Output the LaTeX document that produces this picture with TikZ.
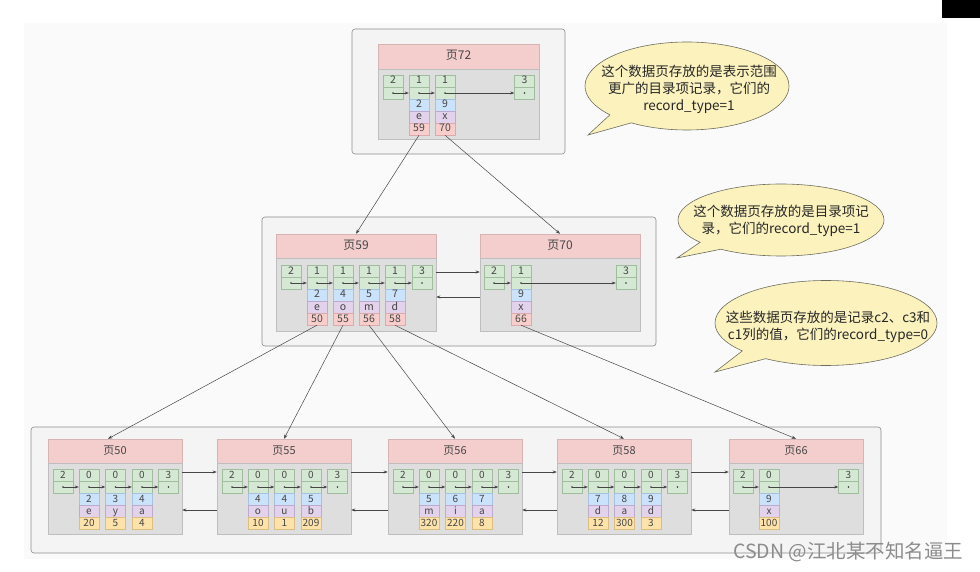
\documentclass[tikz,border=0pt]{standalone}
\usepackage{fontspec}
\setmainfont{Noto Sans CJK SC}
\usetikzlibrary{arrows.meta,shapes.callouts,calc}
\definecolor{bgc}{RGB}{250,250,250}
\definecolor{contfill}{RGB}{244,244,244}
\definecolor{contdraw}{RGB}{140,140,140}
\definecolor{headfill}{RGB}{244,205,205}
\definecolor{headdraw}{RGB}{215,180,180}
\definecolor{bodyfill}{RGB}{222,222,222}
\definecolor{bodydraw}{RGB}{190,190,190}
\definecolor{gfill}{RGB}{213,232,212}
\definecolor{gdraw}{RGB}{160,190,158}
\definecolor{bfill}{RGB}{202,226,250}
\definecolor{bdraw}{RGB}{165,195,225}
\definecolor{vfill}{RGB}{226,210,235}
\definecolor{vdraw}{RGB}{190,170,205}
\definecolor{kfill}{RGB}{248,206,204}
\definecolor{kdraw}{RGB}{220,170,170}
\definecolor{ofill}{RGB}{253,226,170}
\definecolor{odraw}{RGB}{220,190,130}
\definecolor{celltext}{RGB}{70,70,70}
\definecolor{linec}{RGB}{70,70,70}
\definecolor{bubfill}{RGB}{251,242,190}
\definecolor{bubdraw}{RGB}{110,110,95}
\tikzset{
  cfont/.style={font=\fontsize{10}{11}\selectfont},
  tfont/.style={font=\fontsize{11}{12}\selectfont},
  cellb/.style={line width=0.4pt, minimum width=20pt, minimum height=12pt, inner sep=0pt, text height=7.5pt, text depth=1.5pt, text=celltext, cfont},
  gcell/.style={cellb, fill=gfill, draw=gdraw},
  bcell/.style={cellb, fill=bfill, draw=bdraw},
  vcell/.style={cellb, fill=vfill, draw=vdraw},
  kcell/.style={cellb, fill=kfill, draw=kdraw},
  ocell/.style={cellb, fill=ofill, draw=odraw},
  phead/.style={rectangle, fill=headfill, draw=headdraw, line width=0.4pt, inner sep=0pt, text height=8.5pt, text depth=2pt, text=celltext, tfont},
  pbody/.style={rectangle, fill=bodyfill, draw=bodydraw, line width=0.5pt, inner sep=0pt},
  cont/.style={rectangle, rounded corners=3pt, fill=contfill, draw=contdraw, line width=0.6pt, inner sep=0pt},
  ptr/.style={draw=linec, line width=0.5pt, -{Stealth[length=4pt,width=3pt]}},
  conn/.style={draw=linec, line width=0.5pt, -{Stealth[length=4.5pt,width=3.2pt]}},
  dotc/.style={fill=black!80},
  bubble/.style={ellipse callout, fill=bubfill, draw=bubdraw, line width=0.6pt, inner sep=0pt, callout pointer arc=16},
  btext/.style={align=center, text=black!85, font=\fontsize{13.5}{17}\selectfont, inner sep=0pt},
}
\newcommand\hc[4]{%
  \node[gcell] (#1) at ({#2},{#3+6}) {#4};
  \node[gcell] (#1d) at ({#2},{#3+18}) {};
  \fill[dotc] (#1d.center) circle (0.9pt);}
\newcommand\rc[7]{%
  \node[bcell] (#1r1) at ({#2},{#3+6}) {#4};
  \node[vcell] (#1r2) at ({#2},{#3+18}) {#5};
  \node[#7] (#1r3) at ({#2},{#3+30}) {#6};}
\newcommand\lnk[2]{\draw[ptr] (#1d.center) -- (#2d.west);}
\newcommand\pg[8]{%
  \node[phead, minimum width=#5pt, minimum height=#6pt] (#1) at ({#2},{#3}) {#8};
  \node[pbody, minimum width=#5pt, minimum height=#7pt] (#1b) at ({#2},{#4}) {};}
\newcommand\leaf[4]{%
  \pg{#1}{#2+67}{451}{498.5}{134}{24}{71}{#3}
  \hc{#1-1}{#2+15}{469}{2}
  \hc{#1-2}{#2+41}{469}{0}
  \hc{#1-3}{#2+67.5}{469}{0}
  \hc{#1-4}{#2+94}{469}{0}
  \hc{#1-5}{#2+120.5}{469}{3}
  \foreach \a/\b/\c [count=\i from 2] in {#4}{\rc{#1-\i}{#2+41+(\i-2)*26.5}{493}{\a}{\b}{\c}{ocell}}
  \lnk{#1-1}{#1-2}\lnk{#1-2}{#1-3}\lnk{#1-3}{#1-4}\lnk{#1-4}{#1-5}}
\begin{document}
\begin{tikzpicture}[x=1pt,y=-1pt]
\useasboundingbox (0,0) rectangle (980,572);
\fill[white] (0,0) rectangle (980,572);
\fill[bgc] (24,23) rectangle (947,559);
\fill[black] (942,0) rectangle (980,18);

% containers
\node[cont, minimum width=213pt, minimum height=125pt] (c1) at (458.5,91.5) {};
\node[cont, minimum width=394pt, minimum height=129pt] (c2) at (459,281.5) {};
\node[cont, minimum width=850pt, minimum height=126pt] (c3) at (456,490) {};

% page 72
\begin{scope}[tfont/.style={font=\fontsize{12}{13}\selectfont}, cfont/.style={font=\fontsize{10.5}{12}\selectfont}]
\pg{p72}{458.5}{56.5}{104}{161}{25}{70}{页72}
\hc{p72-1}{393}{75}{2}
\hc{p72-2}{419}{75}{1}
\hc{p72-3}{445}{75}{1}
\hc{p72-4}{524.5}{75}{3}
\rc{p72-2}{419}{99}{2}{e}{59}{kcell}
\rc{p72-3}{445}{99}{9}{x}{70}{kcell}
\lnk{p72-1}{p72-2}\lnk{p72-2}{p72-3}\lnk{p72-3}{p72-4}

% page 59
\pg{p59}{356}{246}{294.5}{160}{24}{73}{页59}
\hc{p59-1}{291}{265}{2}
\hc{p59-2}{317}{265}{1}
\hc{p59-3}{343}{265}{1}
\hc{p59-4}{369}{265}{1}
\hc{p59-5}{395}{265}{1}
\hc{p59-6}{422}{265}{3}
\rc{p59-2}{317}{289}{2}{e}{50}{kcell}
\rc{p59-3}{343}{289}{4}{o}{55}{kcell}
\rc{p59-4}{369}{289}{5}{m}{56}{kcell}
\rc{p59-5}{395}{289}{7}{d}{58}{kcell}
\lnk{p59-1}{p59-2}\lnk{p59-2}{p59-3}\lnk{p59-3}{p59-4}\lnk{p59-4}{p59-5}\lnk{p59-5}{p59-6}

% page 70
\pg{p70}{560}{246}{294.5}{160}{24}{73}{页70}
\hc{p70-1}{494}{265}{2}
\hc{p70-2}{521}{265}{1}
\hc{p70-3}{626}{265}{3}
\rc{p70-2}{521}{289}{9}{x}{66}{kcell}
\lnk{p70-1}{p70-2}\lnk{p70-2}{p70-3}
\end{scope}

\draw[ptr] ([yshift=22.5pt]p59b.east) -- ([yshift=22.5pt]p70b.west);
\draw[ptr] ([yshift=-2.5pt]p70b.west) -- ([yshift=-2.5pt]p59b.east);

% leaf pages
\leaf{p50}{48}{页50}{2/e/20,3/y/5,4/a/4}
\leaf{p55}{217}{页55}{4/o/10,4/u/1,5/b/209}
\leaf{p56}{388}{页56}{5/m/320,6/i/220,7/a/8}
\leaf{p58}{557}{页58}{7/d/12,8/a/300,9/d/3}
\pg{p66}{796}{451}{498.5}{134}{24}{71}{页66}
\hc{p66-1}{743}{469}{2}
\hc{p66-2}{769}{469}{0}
\hc{p66-3}{848.5}{469}{3}
\rc{p66-2}{769}{493}{9}{x}{100}{ocell}
\lnk{p66-1}{p66-2}\lnk{p66-2}{p66-3}

% sibling links
\foreach \l/\r in {p50/p55,p55/p56,p56/p58,p58/p66}{
  \draw[ptr] ([yshift=26.5pt]\l b.east) -- ([yshift=26.5pt]\r b.west);
  \draw[ptr] ([yshift=-11.5pt]\r b.west) -- ([yshift=-11.5pt]\l b.east);
}

% tree connectors
\draw[conn] (p72-2r3.south) -- (p59.north);
\draw[conn] (p72-3r3.south) -- (p70.north);
\draw[conn] (p59-2r3.south) -- ([xshift=-7pt]p50.north);
\draw[conn] (p59-3r3.south) -- (p55.north);
\draw[conn] (p59-4r3.south) -- (p56.north);
\draw[conn] (p59-5r3.south) -- (p58.north);
\draw[conn] (p70-2r3.south) -- (p66.north);

% bubbles
\node[bubble, minimum width=204pt, minimum height=88pt, callout absolute pointer={(588,135)}] (b1) at (687,86) {};
\node[btext] (b1t) at (689,89) {这个数据页存放的是表示范围\\更广的目录项记录，它们的\\record\_type=1};
\node[bubble, minimum width=206pt, minimum height=72pt, callout absolute pointer={(677,258)}] (b2) at (781,220) {};
\node[btext] (b2t) at (781,221) {这个数据页存放的是目录项记\\录，它们的record\_type=1};
\node[bubble, minimum width=222pt, minimum height=85pt, callout absolute pointer={(715,372)}] (b3) at (826,323) {};
\node[btext] (b3t) at (828,327) {这些数据页存放的是记录c2、c3和\\c1列的值，它们的record\_type=0};

% watermark
\node[anchor=west, text=black!45, font=\fontsize{19.5}{21}\selectfont, inner sep=0pt] (wm) at (733,552) {CSDN @江北某不知名逼王};
\end{tikzpicture}
\end{document}
